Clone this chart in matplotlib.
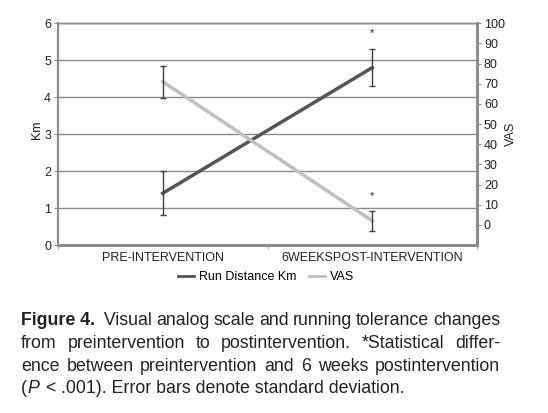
import matplotlib
matplotlib.use('Agg')
import matplotlib.pyplot as plt

plt.rcParams['font.family'] = ['Liberation Sans', 'DejaVu Sans']

# data
categories = ['PRE-INTERVENTION', '6WEEKSPOST-INTERVENTION']
run_km = [1.4, 4.8]
run_km_sd = [0.6, 0.5]
vas = [71, 2]
vas_sd = [8, 5]
star_km = 5.73
star_vas = 14.5

caption_lines = [
    [('Figure 4.', 'bold'), (' Visual', 'normal'), ('analog', 'normal'), ('scale', 'normal'),
     ('and', 'normal'), ('running', 'normal'), ('tolerance', 'normal'), ('changes', 'normal')],
    [('from', 'normal'), ('preintervention', 'normal'), ('to', 'normal'),
     ('postintervention.', 'normal'), ('*Statistical', 'normal'), ('differ-', 'normal')],
    [('ence', 'normal'), ('between', 'normal'), ('preintervention', 'normal'), ('and', 'normal'),
     ('6', 'normal'), ('weeks', 'normal'), ('postintervention', 'normal')],
]
last_line = [('(', 'normal'), ('P', 'italic'), ('<', 'normal'),
             ('.001). Error bars denote standard deviation.', 'normal')]

W, H = 548, 413
fig = plt.figure(figsize=(W / 100, H / 100), dpi=100)

left, right, bottom, top = 58, 477, 245, 23.3
ax1 = fig.add_axes([left / W, 1 - bottom / H, (right - left) / W, (bottom - top) / H])
ax2 = ax1.twinx()

grey = '#8c8c8c'
dark = '#555555'
light = '#c0c0c0'
errc = '#3f3f3f'
fs = 9

x = list(range(len(categories)))

ax1.set_xlim(-0.5, 1.5)
ax1.set_ylim(0, 6)
ax1.set_yticks(range(0, 7))
ax1.grid(axis='y', color=grey, lw=1)
ax1.set_axisbelow(True)

ax2.set_ylim(-10, 100)
ax2.set_yticks(range(0, 101, 10))

ax1.plot(x, run_km, color=dark, lw=2.5, label='Run Distance Km', zorder=3)
ax1.errorbar(x, run_km, yerr=run_km_sd, fmt='none', ecolor=errc, elinewidth=1,
             capsize=2.5, capthick=1, zorder=4)
ax2.plot(x, vas, color=light, lw=2.5, label='VAS', zorder=3)
ax2.errorbar(x, vas, yerr=vas_sd, fmt='none', ecolor=errc, elinewidth=1,
             capsize=2.5, capthick=1, zorder=4)

ax1.text(1, star_km, '*', ha='center', va='center', fontsize=8, color='#222222')
ax2.text(1, star_vas, '*', ha='center', va='center', fontsize=8, color='#222222')

ax1.set_xticks(x)
ax1.set_xticklabels(categories)
ax1.set_xticks([-0.5, 0.5, 1.5], minor=True)
ax1.tick_params(axis='x', which='major', length=0, pad=5, labelsize=fs, labelcolor='#222222')
ax1.tick_params(axis='x', which='minor', length=3, color=grey)
ax1.tick_params(axis='y', length=3, color=grey, labelsize=fs, labelcolor='#222222', pad=2)
ax2.tick_params(axis='y', length=3, color=grey, labelsize=fs, labelcolor='#222222', pad=2)

for ax in (ax1, ax2):
    for s in ax.spines.values():
        s.set_color(grey)
    ax.spines['top'].set_linewidth(1)
    ax.spines['left'].set_linewidth(1.5)
    ax.spines['bottom'].set_linewidth(2)
    ax.spines['right'].set_linewidth(2)

ax1.set_ylabel('Km', fontsize=fs, color='#222222')
ax1.yaxis.set_label_coords(-0.035, 0.52)
ax2.set_ylabel('VAS', fontsize=fs, color='#222222')
ax2.yaxis.set_label_coords(1.066, 0.50)

h1, l1 = ax1.get_legend_handles_labels()
h2, l2 = ax2.get_legend_handles_labels()
leg = fig.legend(h1 + h2, l1 + l2, loc='center', bbox_to_anchor=(266 / W, 1 - 277 / H), ncol=2,
                 frameon=False, fontsize=fs, handlelength=1.3, handletextpad=0.4, columnspacing=1.0)
for ln in leg.get_lines():
    ln.set_linewidth(2)

# caption, justified between x0 and x1
cfs = 12.8
x0, x1 = 21, 500
baselines = [325, 348, 371, 393]
fig.canvas.draw()
renderer = fig.canvas.get_renderer()


def put(px, py, s, weight='normal', style='normal'):
    t = fig.text(px / W, 1 - py / H, s, fontsize=cfs, fontweight=weight, fontstyle=style,
                 va='baseline', ha='left', color='#222222')
    return t.get_window_extent(renderer).width, t


for line, yb in zip(caption_lines, baselines):
    texts = []
    total = 0
    for word, kind in line:
        wdt, t = put(0, yb, word, weight='bold' if kind == 'bold' else 'normal')
        texts.append((t, wdt))
        total += wdt
    gap = (x1 - x0 - total) / (len(texts) - 1)
    px = x0
    for t, wdt in texts:
        t.set_x(px / W)
        px += wdt + gap

# last line is left aligned, with a space either side of "<"
px = x0
gaps = [0, 6, 6, 0]
for (word, kind), g in zip(last_line, gaps):
    wdt, t = put(px, baselines[3], word, style='italic' if kind == 'italic' else 'normal')
    px += wdt + g

fig.savefig('out.png', dpi=100)
